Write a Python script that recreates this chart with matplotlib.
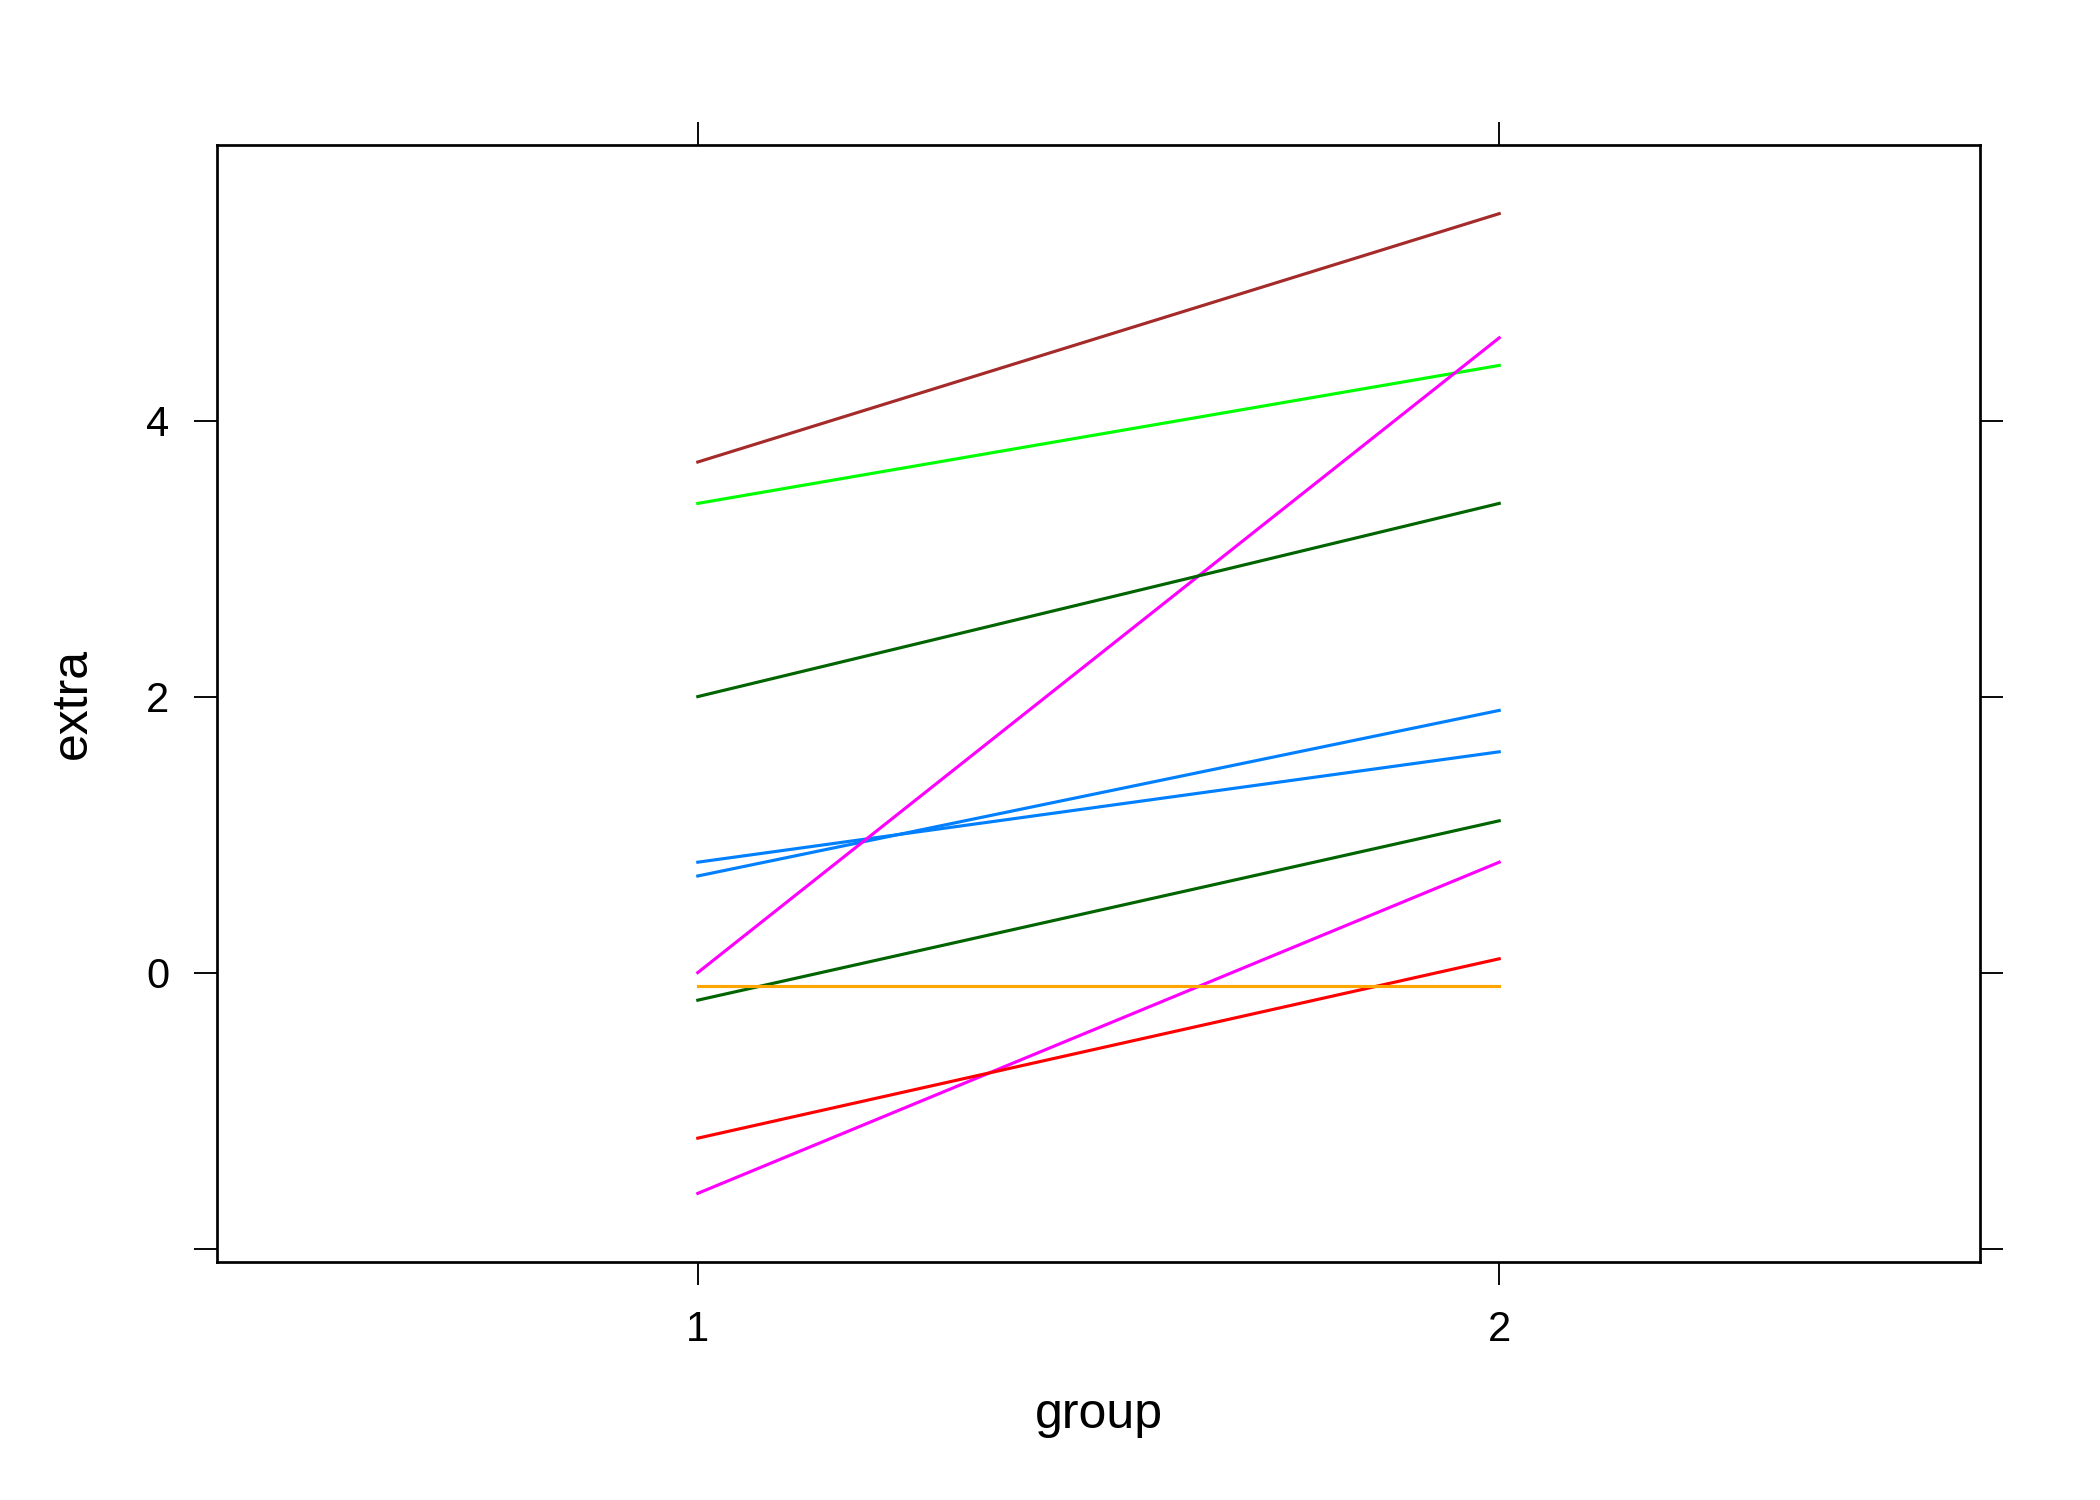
import matplotlib
matplotlib.use("Agg")
import matplotlib.pyplot as plt

plt.rcParams['font.family'] = ['Liberation Sans', 'DejaVu Sans']

# sleep data: extra hours of sleep per subject for the two drugs
ids = [1, 2, 3, 4, 5, 6, 7, 8, 9, 10]
group1 = [0.7, -1.6, -0.2, -1.2, -0.1, 3.4, 3.7, 0.8, 0.0, 2.0]
group2 = [1.9, 0.8, 1.1, 0.1, -0.1, 4.4, 5.5, 1.6, 4.6, 3.4]
groups = [1, 2]
palette = ["#0080ff", "#ff00ff", "darkgreen", "#ff0000", "orange", "#00ff00", "brown"]

yticks = [-2, 0, 2, 4]
ylabels = ["", "0", "2", "4"]

fig = plt.figure(figsize=(7, 5), dpi=300)
ax = fig.add_axes([0.1033, 0.1587, 0.8396, 0.7446])

for i, sid in enumerate(ids):
    ax.plot(groups, [group1[i], group2[i]], color=palette[i % len(palette)], lw=0.75)

ax.set_xlim(0.4, 2.6)
lo = min(group1 + group2)
hi = max(group1 + group2)
pad = 0.07 * (hi - lo)
ax.set_ylim(lo - pad, hi + pad)

ax.set_xticks(groups)
ax.set_xticklabels([str(g) for g in groups])
ax.set_yticks(yticks)
ax.set_yticklabels(ylabels)

ax.tick_params(axis='both', which='both', direction='out', length=5.5, width=0.45,
               labelsize=10, pad=6, top=True, right=True, labeltop=False, labelright=False)
for s in ax.spines.values():
    s.set_linewidth(0.65)

ax.set_xlabel("group", fontsize=12, labelpad=10)
ax.set_ylabel("extra", fontsize=12, labelpad=12)

fig.savefig("out.png", dpi=300)
